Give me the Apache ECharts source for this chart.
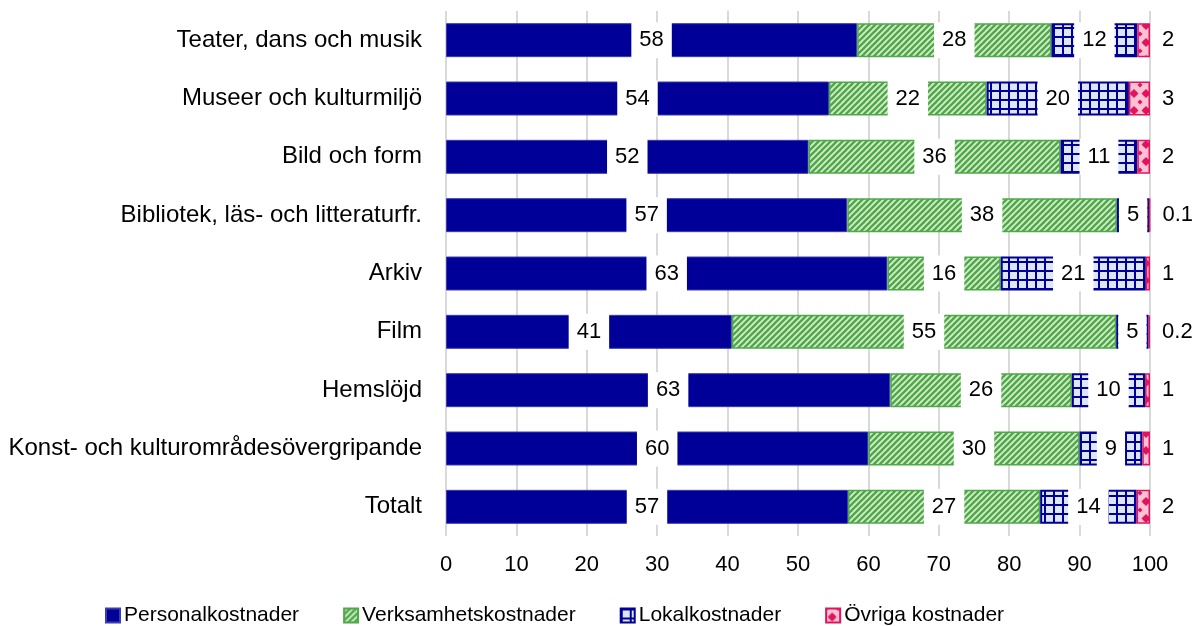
<!DOCTYPE html>
<html>
<head>
<meta charset="utf-8">
<script src="https://cdn.jsdelivr.net/npm/echarts@6/dist/echarts.min.js"></script>
<style>
  html, body { margin: 0; padding: 0; background: #fff; }
  #chart { width: 1195px; height: 626px; }
</style>
</head>
<body>
<div id="chart"></div>
<script>
var categories = ['Teater, dans och musik', 'Museer och kulturmiljö', 'Bild och form',
  'Bibliotek, läs- och litteraturfr.', 'Arkiv', 'Film', 'Hemslöjd',
  'Konst- och kulturområdesövergripande', 'Totalt'];
var personal    = [58.4, 54.4, 51.5, 57.0, 62.7, 40.6, 63.1, 60.0, 57.1];
var verksamhet  = [27.6, 22.4, 35.8, 38.3, 16.1, 54.6, 25.8, 30.0, 27.3];
var lokal       = [12.2, 20.2, 10.9, 4.6, 20.6, 4.6, 10.4, 8.9, 13.7];
var ovriga      = [1.8, 3.0, 1.8, 0.1, 0.6, 0.2, 0.7, 1.1, 1.9];
var seriesNames = ['Personalkostnader', 'Verksamhetskostnader', 'Lokalkostnader', 'Övriga kostnader'];
var xTicks = [0, 10, 20, 30, 40, 50, 60, 70, 80, 90, 100];

var FONT = 'Liberation Sans, Arial, sans-serif';

// pattern tiles
function tile(w, h, draw) {
  var c = document.createElement('canvas');
  c.width = w; c.height = h;
  draw(c.getContext('2d'));
  return { image: c, repeat: 'repeat' };
}

var stripes = tile(6, 6, function (g) {
  g.fillStyle = '#d6eecb';
  g.fillRect(0, 0, 6, 6);
  g.strokeStyle = '#4fa84a';
  g.lineWidth = 2.4;
  [-6, 0, 6].forEach(function (o) {
    g.beginPath();
    g.moveTo(o - 1, 7);
    g.lineTo(o + 7, -1);
    g.stroke();
  });
});

var grid = tile(9, 9, function (g) {
  g.fillStyle = '#dce6f6';
  g.fillRect(0, 0, 9, 9);
  g.fillStyle = '#000099';
  g.fillRect(0, 0, 2, 9);
  g.fillRect(0, 0, 9, 2);
});

var dots = tile(12, 17, function (g) {
  g.fillStyle = '#ffc2d4';
  g.fillRect(0, 0, 12, 17);
  g.fillStyle = '#e0145e';
  function diamond(x, y, r) {
    g.beginPath();
    g.moveTo(x, y - r); g.lineTo(x + r, y); g.lineTo(x, y + r); g.lineTo(x - r, y);
    g.closePath(); g.fill();
  }
  diamond(6, 8.5, 4.5);
  g.fillRect(3.5, 6.5, 5, 4);
  diamond(0, 0, 2.5); diamond(12, 0, 2.5); diamond(0, 17, 2.5); diamond(12, 17, 2.5);
});

function fmt(p) {
  var v = p.value;
  return v < 0.5 ? v.toFixed(1) : String(Math.round(v));
}

var values = [personal, verksamhet, lokal, ovriga];
var styles = [
  { color: '#000099', borderColor: '#3c3cb0', borderWidth: 1 },
  { color: stripes, borderColor: '#4fa84a', borderWidth: 1.5 },
  { color: grid, borderColor: '#000099', borderWidth: 2 },
  { color: dots, borderColor: '#e0145e', borderWidth: 1.5 }
];

var series = seriesNames.map(function (name, i) {
  var label = {
    show: true,
    position: 'inside',
    formatter: fmt,
    color: '#000',
    fontSize: 22,
    fontFamily: FONT,
    backgroundColor: '#fff',
    padding: [0, 8],
    height: 36,
    lineHeight: 36
  };
  if (i === 3) {
    label = {
      show: true, position: 'right', distance: 12, formatter: fmt,
      color: '#000', fontSize: 22, fontFamily: FONT
    };
  }
  return {
    name: name,
    type: 'bar',
    stack: 'total',
    barWidth: 34,
    data: values[i],
    itemStyle: styles[i],
    label: label,
    emphasis: { disabled: true }
  };
});

var myChart = echarts.init(document.getElementById('chart'));
myChart.setOption({
  animation: false,
  textStyle: { fontFamily: FONT },
  grid: { left: 446, right: 45, top: 11, bottom: 90 },
  legend: {
    data: seriesNames,
    left: 100,
    top: 600,
    itemWidth: 14,
    itemHeight: 14,
    itemGap: 44,
    icon: 'rect',
    textStyle: { fontSize: 21, color: '#000', padding: [0, 0, 0, -1] }
  },
  xAxis: {
    type: 'value',
    min: 0,
    max: 100,
    interval: 10,
    axisLine: { show: false },
    axisTick: { show: false },
    axisLabel: {
      fontSize: 22, color: '#000', margin: 18,
      formatter: function (v) { return xTicks.indexOf(v) >= 0 ? String(v) : ''; }
    },
    splitLine: { lineStyle: { color: '#d9d9d9', width: 2 } }
  },
  yAxis: {
    type: 'category',
    inverse: true,
    data: categories,
    axisLine: { show: false },
    axisTick: { show: false },
    axisLabel: { fontSize: 24, color: '#000', margin: 24 }
  },
  series: series
});
</script>
</body>
</html>
